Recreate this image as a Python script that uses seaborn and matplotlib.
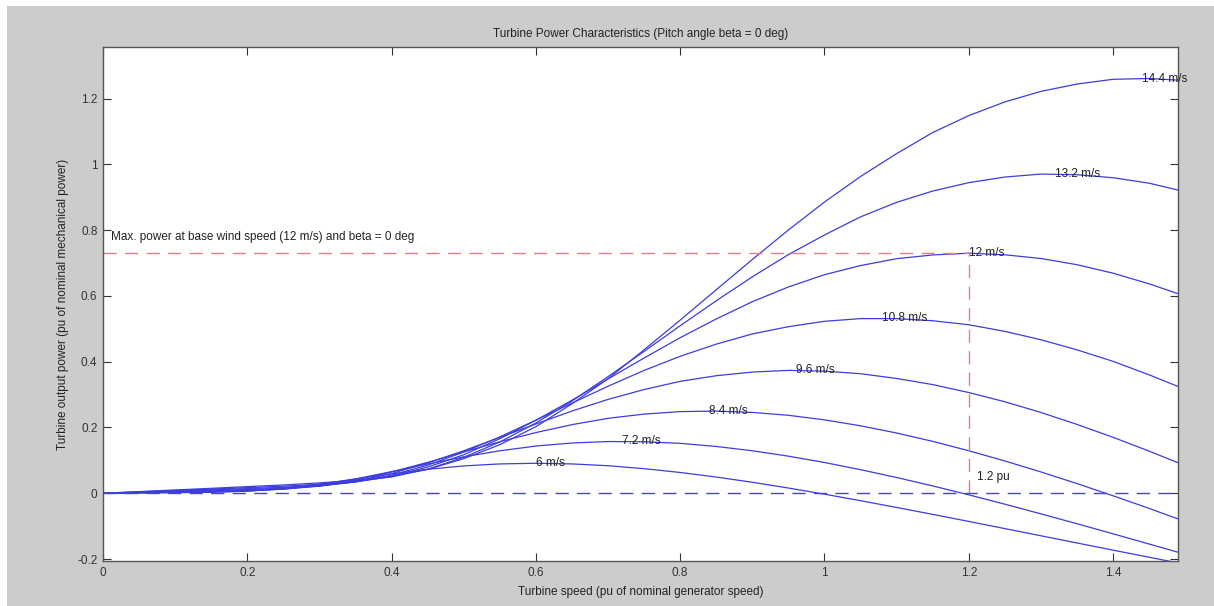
import matplotlib
matplotlib.use("Agg")
import matplotlib.pyplot as plt
from matplotlib.patches import Rectangle
import seaborn as sns
import pandas as pd

# ---- data ----
speed = [0, 0.05, 0.1, 0.15, 0.2, 0.25, 0.3, 0.35, 0.4, 0.45, 0.5, 0.55, 0.6, 0.65, 0.7,
         0.75, 0.8, 0.85, 0.9, 0.95, 1.0, 1.05, 1.1, 1.15, 1.2, 1.25, 1.3, 1.35, 1.4, 1.45, 1.49]
wind_labels = ["6 m/s", "7.2 m/s", "8.4 m/s", "9.6 m/s", "10.8 m/s", "12 m/s", "13.2 m/s", "14.4 m/s"]
p_6 = [0, 0.0009, 0.0018, 0.0029, 0.0065, 0.0146, 0.0278, 0.0434, 0.0593, 0.0728, 0.0831,
       0.0892, 0.0912, 0.0892, 0.0837, 0.0748, 0.0632, 0.0493, 0.0334, 0.0159, -0.0028,
       -0.0226, -0.0432, -0.0642, -0.0857, -0.1075, -0.1293, -0.1512, -0.173, -0.1946, -0.2118]
p_7_2 = [0, 0.0013, 0.0025, 0.0039, 0.0066, 0.0131, 0.0253, 0.0435, 0.0658, 0.0889, 0.1107,
         0.1291, 0.1436, 0.1528, 0.1573, 0.1566, 0.1518, 0.1423, 0.1292, 0.1128, 0.0935,
         0.0717, 0.0479, 0.0223, -0.0048, -0.0332, -0.0626, -0.0927, -0.1233, -0.1544, -0.1793]
p_8_4 = [0, 0.0017, 0.0034, 0.0052, 0.0076, 0.0123, 0.0227, 0.0402, 0.0647, 0.0939, 0.1257,
         0.1565, 0.1846, 0.2086, 0.2279, 0.2407, 0.2483, 0.2498, 0.2458, 0.2371, 0.2232,
         0.2051, 0.1832, 0.1578, 0.1293, 0.0982, 0.0648, 0.0294, -0.0077, -0.0461, -0.078]
p_9_6 = [0, 0.0022, 0.0045, 0.0068, 0.0093, 0.0132, 0.0215, 0.0362, 0.060, 0.0919, 0.1293,
         0.1698, 0.2106, 0.250, 0.2854, 0.3154, 0.3403, 0.3574, 0.3685, 0.3737, 0.3713,
         0.3635, 0.3491, 0.3304, 0.3063, 0.2782, 0.2457, 0.2093, 0.1701, 0.1281, 0.0928]
p_10_8 = [0, 0.0028, 0.0057, 0.0085, 0.0114, 0.0154, 0.0222, 0.0343, 0.0549, 0.0854, 0.1253,
          0.1713, 0.2221, 0.2742, 0.3254, 0.3736, 0.4165, 0.4535, 0.4845, 0.5065, 0.5229,
          0.5311, 0.531, 0.5246, 0.5124, 0.4923, 0.4668, 0.4361, 0.4011, 0.3601, 0.3247]
p_12 = [0, 0.0035, 0.007, 0.0105, 0.014, 0.0182, 0.0237, 0.0344, 0.0513, 0.0797, 0.1171,
        0.1658, 0.222, 0.2829, 0.3475, 0.4114, 0.473, 0.530, 0.5825, 0.6273, 0.6646,
        0.6924, 0.7133, 0.7247, 0.730, 0.7251, 0.7139, 0.695, 0.6692, 0.6368, 0.6068]
p_13_2 = [0, 0.0042, 0.0085, 0.0127, 0.017, 0.0215, 0.0273, 0.0364, 0.0496, 0.0733, 0.1093,
          0.1559, 0.2135, 0.2804, 0.3546, 0.4314, 0.5093, 0.5854, 0.6581, 0.7257, 0.7854,
          0.8405, 0.8846, 0.919, 0.9445, 0.9615, 0.9706, 0.9686, 0.9595, 0.9429, 0.922]
p_14_4 = [0, 0.005, 0.010, 0.015, 0.0202, 0.0252, 0.0315, 0.0389, 0.0526, 0.0725, 0.1051,
          0.1477, 0.2024, 0.272, 0.3482, 0.4362, 0.5264, 0.6189, 0.7109, 0.8005, 0.8856,
          0.9632, 1.0328, 1.0969, 1.1484, 1.19, 1.222, 1.2444, 1.2588, 1.2612, 1.2562]
series = [p_6, p_7_2, p_8_4, p_9_6, p_10_8, p_12, p_13_2, p_14_4]

# label anchor points (peak of each curve)
label_x = [0.60, 0.72, 0.84, 0.96, 1.08, 1.20, 1.32, 1.44]
label_y = [0.091, 0.158, 0.250, 0.374, 0.532, 0.730, 0.972, 1.261]

p_max_base = 0.73
speed_base = 1.2
x_max = 1.49

title = "Turbine Power Characteristics (Pitch angle beta = 0 deg)"
xlabel = "Turbine speed (pu of nominal generator speed)"
ylabel = "Turbine output power (pu of nominal mechanical power)"
max_text = "Max. power at base wind speed (12 m/s) and beta = 0 deg"
pu_text = "1.2 pu"

rows = []
for lab, vals in zip(wind_labels, series):
    for s, p in zip(speed, vals):
        rows.append({"speed": s, "power": p, "wind": lab})
df = pd.DataFrame(rows)

# ---- style ----
sns.set_style("ticks")
plt.rcParams["font.family"] = ["Liberation Sans", "DejaVu Sans"]
plt.rcParams["font.size"] = 8.5

fig = plt.figure(figsize=(12.14, 6.06), dpi=100, facecolor="white")
fig.patches.append(Rectangle((7 / 1214, 0), 1 - 7 / 1214, 1 - 6 / 606,
                             transform=fig.transFigure, facecolor="#cccccc",
                             edgecolor="none", zorder=-10))
ax = fig.add_axes([103 / 1214, 45 / 606, (1178 - 103) / 1214, (561 - 47) / 606])
ax.set_facecolor("white")

curve_blue = "#3c3ce0"
sns.lineplot(data=df, x="speed", y="power", hue="wind", hue_order=wind_labels,
             palette=[curve_blue] * len(wind_labels), legend=False,
             estimator=None, sort=False, linewidth=0.9, ax=ax)

red = "#ec7b86"
ax.plot([0, speed_base], [p_max_base, p_max_base], color=red, lw=1.0,
        dashes=(9.5, 6.0))
ax.plot([speed_base, speed_base], [0, p_max_base], color=red, lw=1.0,
        dashes=(9.5, 6.0))
ax.plot([0, x_max], [0, 0], color="#4444cc", lw=1.0, dashes=(9.5, 6.0))

for lx, ly, lab in zip(label_x, label_y, wind_labels):
    ax.text(lx, ly, lab, ha="left", va="center", fontsize=8.5, color="#222222")
ax.text(0.011, 0.778, max_text, ha="left", va="center", fontsize=8.5, color="#222222")
ax.text(1.211, 0.05, pu_text, ha="left", va="center", fontsize=8.5, color="#222222")

ax.set_xlim(0, x_max)
ax.set_ylim(-0.206, 1.357)
ax.set_xticks([0, 0.2, 0.4, 0.6, 0.8, 1.0, 1.2, 1.4])
ax.set_xticklabels(["0", "0.2", "0.4", "0.6", "0.8", "1", "1.2", "1.4"])
ax.set_yticks([-0.2, 0, 0.2, 0.4, 0.6, 0.8, 1.0, 1.2])
ax.set_yticklabels(["-0.2", "0", "0.2", "0.4", "0.6", "0.8", "1", "1.2"])
ax.tick_params(direction="in", length=5.5, width=0.8, top=True, right=True,
               labelsize=8.5, colors="#333333", pad=4)
for sp in ax.spines.values():
    sp.set_color("#555555")
    sp.set_linewidth(1.0)

ax.set_title(title, fontsize=8.5, color="#222222", pad=7)
ax.set_xlabel(xlabel, fontsize=8.5, color="#222222", labelpad=5)
ax.set_ylabel(ylabel, fontsize=8.5, color="#222222", labelpad=6)

fig.savefig("out.png", dpi=100, facecolor=fig.get_facecolor())
